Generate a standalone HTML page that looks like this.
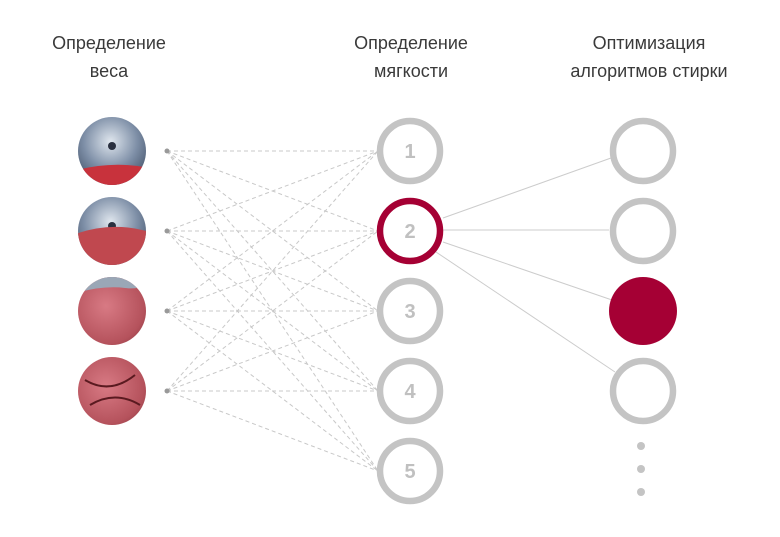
<!DOCTYPE html>
<html><head><meta charset="utf-8"><style>
body{margin:0;background:#fff;width:780px;height:532px;overflow:hidden}
text{font-family:"Liberation Sans","DejaVu Sans",sans-serif}
</style></head><body>
<svg width="780" height="532" xmlns="http://www.w3.org/2000/svg">
<defs>
<radialGradient id="m" cx="45%" cy="35%" r="60%"><stop offset="0" stop-color="#dfe6ee"/><stop offset="0.5" stop-color="#7d8ea6"/><stop offset="1" stop-color="#2e3c52"/></radialGradient>
<radialGradient id="r" cx="40%" cy="40%" r="70%"><stop offset="0" stop-color="#d87a84"/><stop offset="0.6" stop-color="#b5525c"/><stop offset="1" stop-color="#6a2028"/></radialGradient>
<clipPath id="c1"><circle cx="112" cy="151" r="34"/></clipPath>
<clipPath id="c2"><circle cx="112" cy="231" r="34"/></clipPath>
<clipPath id="c3"><circle cx="112" cy="311" r="34"/></clipPath>
<clipPath id="c4"><circle cx="112" cy="391" r="34"/></clipPath>
</defs>
<g font-size="18" fill="#3a3a3a" text-anchor="middle">
<text x="109" y="49">Определение</text><text x="109" y="77">веса</text>
<text x="411" y="49">Определение</text><text x="411" y="77">мягкости</text>
<text x="649" y="49">Оптимизация</text><text x="649" y="77">алгоритмов стирки</text>
</g>
<g clip-path="url(#c1)"><rect x="70" y="110" width="90" height="90" fill="url(#m)"/><circle cx="112" cy="146" r="4" fill="#2a3040"/><path d="M70 172 Q110 160 150 168 L150 190 L70 190Z" fill="#c8323c"/></g>
<g clip-path="url(#c2)"><rect x="70" y="190" width="90" height="90" fill="url(#m)"/><circle cx="112" cy="226" r="4" fill="#2a3040"/><path d="M70 236 Q110 220 150 232 L150 270 L70 270Z" fill="#c0484f"/></g>
<g clip-path="url(#c3)"><rect x="70" y="270" width="90" height="90" fill="url(#r)"/><path d="M70 295 Q100 285 125 288 Q140 290 150 282 L150 270 L70 270Z" fill="#9aa7b6"/></g>
<g clip-path="url(#c4)"><rect x="70" y="350" width="90" height="90" fill="url(#r)"/><path d="M85 380 Q110 395 135 375 M90 405 Q115 390 140 405" stroke="#5a1a20" stroke-width="2" fill="none"/></g>
<g stroke="#c8c8c8" stroke-width="1" stroke-dasharray="4,3" fill="none">
<path d="M167 151L378 151M167 151L378 231M167 151L378 311M167 151L378 391M167 151L378 471
M167 231L378 151M167 231L378 231M167 231L378 311M167 231L378 391M167 231L378 471
M167 311L378 151M167 311L378 231M167 311L378 311M167 311L378 391M167 311L378 471
M167 391L378 151M167 391L378 231M167 391L378 311M167 391L378 391M167 391L378 471"/>
</g>
<g fill="#999"><circle cx="167" cy="151" r="2.5"/><circle cx="167" cy="231" r="2.5"/><circle cx="167" cy="311" r="2.5"/><circle cx="167" cy="391" r="2.5"/></g>
<g stroke="#ccc" stroke-width="1"><path d="M443 218L611 158M443 230L609 230M443 242L612 300M436 252L615 372"/></g>
<g fill="#fff" stroke="#c4c4c4" stroke-width="6.5">
<circle cx="410" cy="151" r="30"/><circle cx="410" cy="311" r="30"/><circle cx="410" cy="391" r="30"/><circle cx="410" cy="471" r="30"/>
</g>
<circle cx="410" cy="231" r="30" fill="#fff" stroke="#a50034" stroke-width="6.5"/>
<g font-size="20" font-weight="bold" fill="#c0c0c0" text-anchor="middle">
<text x="410" y="158">1</text><text x="410" y="238">2</text><text x="410" y="318">3</text><text x="410" y="398">4</text><text x="410" y="478">5</text>
</g>
<g fill="#fff" stroke="#c4c4c4" stroke-width="6.5">
<circle cx="643" cy="151" r="30"/><circle cx="643" cy="231" r="30"/><circle cx="643" cy="391" r="30"/>
</g>
<circle cx="643" cy="311" r="34" fill="#a50034"/>
<g fill="#c4c4c4"><circle cx="641" cy="446" r="4"/><circle cx="641" cy="469" r="4"/><circle cx="641" cy="492" r="4"/></g>
</svg>
</body></html>
